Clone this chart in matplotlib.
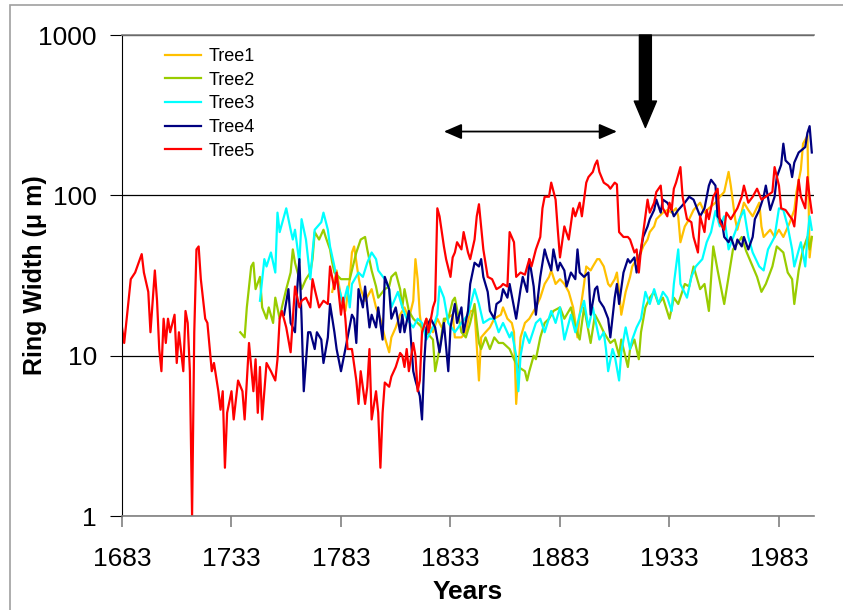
import matplotlib
matplotlib.use('Agg')
import matplotlib.pyplot as plt
from matplotlib.patches import Rectangle
from matplotlib.ticker import FixedLocator, NullLocator, FuncFormatter

plt.rcParams['font.family'] = ['Liberation Sans', 'DejaVu Sans']

# ring widths (um), per tree
tree1_years = [1779, 1781, 1783, 1785, 1787, 1788, 1789, 1791, 1792, 1794, 1797, 1799, 1801, 1803, 1805, 1806, 1808,
               1810, 1812, 1814, 1816, 1817, 1818, 1819, 1820, 1822, 1825, 1827, 1829, 1831, 1834, 1835, 1838, 1840,
               1842, 1844, 1846, 1847, 1849, 1851, 1853, 1856, 1857, 1859, 1861, 1862, 1863, 1865, 1867, 1869, 1872,
               1874, 1876, 1878, 1879, 1881, 1883, 1885, 1887, 1889, 1891, 1892, 1894, 1895, 1897, 1898, 1900, 1901,
               1903, 1905, 1906, 1908, 1909, 1910, 1911, 1913, 1915, 1916, 1918, 1920, 1921, 1923, 1924, 1926, 1927,
               1930, 1932, 1934, 1936, 1937, 1938, 1940, 1942, 1944, 1947, 1949, 1951, 1954, 1956, 1958, 1960, 1961,
               1963, 1964, 1967, 1969, 1971, 1974, 1975, 1976, 1979, 1981, 1983, 1985, 1988, 1990, 1991, 1993, 1994,
               1996, 1997, 1998]
tree1_width = [25, 34, 23, 19, 30, 44, 48, 31, 26, 22, 26, 20, 17, 13, 10.5, 13, 15,
               18, 20, 17, 22, 40, 30, 18, 14, 17, 14, 17, 15, 17, 18, 13, 13, 14,
               19, 19, 7, 13, 14, 15, 17, 18, 20, 17, 16, 14, 5, 13, 16, 17, 20,
               23, 28, 31, 34, 28, 30, 28, 25, 20, 13, 18, 28, 36, 34, 36, 40, 40,
               36, 28, 27, 30, 33, 25, 18, 25, 31, 36, 40, 44, 48, 53, 59, 64, 71,
               78, 81, 78, 83, 74, 51, 64, 71, 81, 90, 78, 83, 90, 98, 105, 140, 115,
               71, 61, 90, 81, 74, 90, 64, 55, 61, 55, 61, 55, 68, 81, 105, 145, 210,
               235, 41, 55]

tree2_years = [1737, 1739, 1740, 1742, 1743, 1744, 1746, 1747, 1749, 1750, 1752, 1753, 1755, 1756, 1758, 1760, 1761,
               1762, 1764, 1765, 1767, 1769, 1770, 1771, 1773, 1775, 1776, 1778, 1779, 1780, 1783, 1787, 1790, 1792,
               1794, 1795, 1797, 1799, 1800, 1803, 1805, 1806, 1808, 1810, 1811, 1812, 1814, 1816, 1818, 1820, 1822,
               1825, 1826, 1828, 1830, 1832, 1834, 1835, 1838, 1840, 1842, 1844, 1846, 1847, 1849, 1851, 1853, 1855,
               1857, 1860, 1862, 1864, 1867, 1868, 1869, 1871, 1872, 1874, 1876, 1878, 1880, 1883, 1885, 1888, 1890,
               1892, 1894, 1897, 1899, 1901, 1903, 1906, 1908, 1910, 1911, 1914, 1915, 1917, 1919, 1920, 1922, 1924,
               1926, 1928, 1930, 1933, 1935, 1937, 1940, 1942, 1944, 1947, 1949, 1951, 1953, 1955, 1958, 1960, 1962,
               1964, 1966, 1968, 1971, 1973, 1975, 1977, 1980, 1982, 1985, 1987, 1989, 1990, 1992, 1994, 1996, 1997,
               1998]
tree2_width = [14, 13, 20, 36, 38, 26, 31, 20, 17, 20, 16, 23, 17, 20, 26, 33, 46,
               38, 30, 26, 30, 33, 40, 59, 53, 61, 55, 46, 38, 33, 30, 30, 44, 53,
               55, 46, 34, 27, 23, 26, 27, 31, 33, 26, 20, 26, 19, 17, 16, 15, 14,
               12.6, 8, 11, 17, 17, 22, 23, 14, 13, 16, 21, 12, 11, 13, 11, 13, 12,
               12, 11, 9.5, 8.5, 8, 7, 8, 10, 9.5, 13, 16, 17, 19, 20, 17, 20, 15,
               12.6, 20, 12, 18, 16, 14, 12, 12.6, 10, 12.6, 8.5, 11, 12.6, 9.5, 14, 20, 23,
               25, 21, 23, 17, 23, 21, 28, 27, 36, 26, 28, 19, 48, 34, 21, 31, 46,
               50, 55, 45, 36, 31, 25, 28, 36, 48, 44, 33, 30, 21, 34, 46, 55, 46,
               55]

tree3_years = [1746, 1748, 1749, 1751, 1753, 1754, 1755, 1757, 1758, 1760, 1761, 1762, 1764, 1765, 1767, 1769, 1770,
               1771, 1774, 1775, 1777, 1778, 1780, 1781, 1784, 1786, 1787, 1788, 1791, 1793, 1795, 1797, 1799, 1800,
               1803, 1805, 1806, 1809, 1811, 1813, 1816, 1818, 1820, 1822, 1825, 1827, 1828, 1830, 1832, 1835, 1838,
               1841, 1843, 1844, 1846, 1848, 1851, 1853, 1855, 1857, 1860, 1861, 1863, 1864, 1865, 1867, 1869, 1872,
               1874, 1876, 1879, 1881, 1883, 1885, 1888, 1890, 1892, 1894, 1896, 1898, 1899, 1901, 1903, 1904, 1905,
               1907, 1908, 1910, 1911, 1913, 1915, 1916, 1918, 1920, 1922, 1924, 1926, 1928, 1930, 1932, 1934, 1935,
               1937, 1938, 1941, 1943, 1945, 1948, 1950, 1952, 1954, 1956, 1958, 1960, 1963, 1965, 1967, 1969, 1971,
               1974, 1976, 1978, 1981, 1983, 1985, 1987, 1989, 1990, 1993, 1995, 1996, 1997, 1998]
tree3_width = [22, 40, 36, 44, 33, 78, 59, 74, 83, 61, 53, 61, 38, 71, 53, 30, 44,
               61, 68, 78, 61, 48, 36, 30, 21, 27, 20, 28, 33, 31, 38, 44, 40, 34,
               30, 26, 20, 25, 20, 17, 15, 17, 16, 12.6, 15, 18, 27, 23, 16, 14, 16,
               18, 23, 26, 21, 16, 17, 17, 14, 16, 13, 14, 10, 6, 10, 14, 12, 16,
               17, 14, 19, 16, 20, 12.6, 18, 14, 18, 22, 15, 20, 17, 12.6, 14, 11, 8,
               11, 10, 7, 10.5, 15, 11, 12.6, 15, 17, 25, 21, 26, 21, 25, 23, 19, 28,
               46, 28, 23, 31, 36, 40, 51, 59, 80, 64, 74, 46, 59, 71, 81, 55, 44,
               36, 34, 46, 55, 83, 81, 64, 46, 36, 51, 36, 55, 74, 61]

tree4_years = [1757, 1759, 1760, 1762, 1763, 1764, 1765, 1766, 1768, 1769, 1771, 1772, 1774, 1775, 1777, 1778, 1780,
               1781, 1783, 1785, 1788, 1789, 1790, 1791, 1793, 1794, 1796, 1797, 1799, 1800, 1802, 1803, 1805, 1806,
               1808, 1810, 1811, 1812, 1814, 1816, 1817, 1819, 1820, 1821, 1822, 1824, 1826, 1827, 1828, 1830, 1832,
               1833, 1835, 1836, 1838, 1839, 1841, 1842, 1844, 1846, 1847, 1848, 1850, 1851, 1853, 1854, 1856, 1857,
               1859, 1860, 1862, 1863, 1865, 1866, 1868, 1869, 1871, 1872, 1874, 1876, 1877, 1879, 1880, 1882, 1883,
               1885, 1886, 1888, 1890, 1891, 1892, 1894, 1896, 1897, 1899, 1900, 1901, 1903, 1905, 1906, 1908, 1909,
               1910, 1912, 1914, 1915, 1917, 1918, 1920, 1921, 1923, 1924, 1926, 1927, 1929, 1930, 1932, 1934, 1935,
               1937, 1940, 1942, 1944, 1947, 1949, 1951, 1952, 1954, 1955, 1957, 1958, 1960, 1961, 1963, 1964, 1966,
               1967, 1969, 1971, 1972, 1974, 1976, 1977, 1979, 1981, 1982, 1984, 1985, 1986, 1988, 1989, 1990, 1992,
               1993, 1995, 1996, 1997, 1998]
tree4_width = [18, 26, 16, 14, 26, 40, 17, 6, 14, 14, 11, 14, 12.6, 9, 13, 21, 14,
               11, 8, 11, 18, 17, 12, 26, 20, 27, 15, 18, 15, 20, 12.6, 31, 26, 17,
               20, 14, 18, 14, 19, 8, 7, 5.6, 4, 9, 15, 17, 15, 12.6, 10.5, 16, 8,
               15, 21, 16, 20, 14, 19, 28, 38, 36, 40, 31, 25, 19, 17, 21, 22, 26,
               23, 28, 20, 17, 26, 31, 25, 40, 27, 18, 31, 46, 41, 34, 46, 34, 38,
               34, 27, 33, 30, 46, 33, 31, 33, 18, 26, 27, 22, 20, 17, 13, 23, 28,
               21, 33, 40, 38, 41, 33, 46, 55, 64, 71, 81, 94, 78, 94, 90, 81, 74,
               81, 90, 98, 94, 74, 83, 115, 125, 115, 74, 68, 55, 51, 55, 46, 53, 48,
               55, 46, 55, 71, 81, 98, 115, 81, 98, 130, 155, 210, 165, 155, 130, 160, 185,
               190, 200, 245, 270, 185]

tree5_years = [1683, 1684, 1687, 1689, 1692, 1693, 1695, 1696, 1698, 1699, 1700, 1701, 1702, 1703, 1704, 1705, 1707,
               1708, 1709, 1711, 1712, 1713, 1714, 1715, 1716, 1717, 1718, 1719, 1721, 1722, 1724, 1725, 1727, 1728,
               1729, 1730, 1731, 1733, 1734, 1736, 1738, 1739, 1741, 1743, 1744, 1745, 1746, 1747, 1749, 1751, 1753,
               1754, 1755, 1756, 1758, 1760, 1761, 1762, 1764, 1765, 1767, 1769, 1770, 1771, 1773, 1775, 1777, 1778,
               1780, 1781, 1783, 1784, 1785, 1786, 1788, 1790, 1791, 1792, 1794, 1795, 1796, 1797, 1799, 1800, 1801,
               1802, 1803, 1805, 1806, 1808, 1810, 1811, 1812, 1813, 1814, 1816, 1817, 1818, 1819, 1820, 1822, 1823,
               1825, 1826, 1827, 1828, 1830, 1831, 1833, 1834, 1835, 1836, 1838, 1839, 1841, 1842, 1844, 1845, 1846,
               1847, 1848, 1850, 1852, 1854, 1856, 1857, 1859, 1860, 1862, 1863, 1865, 1867, 1869, 1870, 1872, 1874,
               1875, 1876, 1878, 1879, 1881, 1882, 1883, 1885, 1887, 1889, 1890, 1892, 1893, 1895, 1896, 1898, 1899,
               1900, 1901, 1903, 1905, 1906, 1908, 1909, 1910, 1912, 1914, 1915, 1917, 1918, 1919, 1920, 1922, 1923,
               1924, 1926, 1927, 1929, 1930, 1932, 1933, 1934, 1935, 1936, 1938, 1939, 1941, 1943, 1944, 1946, 1947,
               1949, 1950, 1951, 1953, 1955, 1956, 1958, 1959, 1961, 1964, 1966, 1967, 1969, 1971, 1973, 1975, 1977,
               1980, 1981, 1983, 1984, 1986, 1988, 1989, 1990, 1992, 1993, 1995, 1996, 1997, 1998]
tree5_width = [15, 12, 30, 33, 43, 33, 25, 14, 34, 22, 11, 8, 17, 12, 17, 14, 18,
               9, 14, 8, 19, 16, 8, 1.0, 14, 46, 48, 30, 17, 16, 8, 9, 6, 4.6,
               6, 2.0, 4.4, 6, 4, 7, 6, 4, 12, 6, 9.5, 4.4, 8.5, 4, 9, 8, 7,
               9.5, 17, 19, 15, 10.5, 17, 27, 20, 22, 23, 20, 30, 26, 20, 22, 21, 36,
               26, 33, 18, 23, 17, 11, 11, 7, 5, 8, 5, 6.4, 11, 4, 6, 4.4, 2,
               4.4, 6.8, 6.4, 7.4, 8.5, 10.4, 10, 8.5, 11, 8, 12, 10, 6, 7, 14, 17, 14,
               20, 22, 83, 74, 48, 40, 31, 41, 44, 51, 46, 59, 44, 40, 53, 74, 88,
               64, 46, 31, 30, 26, 27, 28, 27, 59, 51, 31, 33, 32, 40, 36, 46, 55,
               83, 98, 98, 120, 94, 61, 41, 64, 53, 83, 74, 90, 74, 120, 130, 140, 155,
               165, 140, 120, 115, 110, 120, 117, 59, 55, 55, 53, 44, 46, 33, 46, 74, 94,
               78, 90, 105, 115, 83, 74, 90, 81, 110, 120, 150, 98, 71, 68, 55, 44, 74,
               59, 81, 71, 98, 110, 68, 61, 78, 71, 83, 98, 115, 90, 98, 110, 94, 98,
               105, 150, 115, 83, 81, 74, 71, 64, 125, 98, 83, 130, 98, 78]

series = [
    ('Tree1', tree1_years, tree1_width, '#FFC000'),
    ('Tree2', tree2_years, tree2_width, '#99CC00'),
    ('Tree3', tree3_years, tree3_width, '#00FFFF'),
    ('Tree4', tree4_years, tree4_width, '#000080'),
    ('Tree5', tree5_years, tree5_width, '#FF0000'),
]

year_ticks = [1683, 1733, 1783, 1833, 1883, 1933, 1983]
width_ticks = [1, 10, 100, 1000]

fig = plt.figure(figsize=(8.43, 6.10), dpi=100)
ax = fig.add_axes([122 / 843, 1 - 516 / 610, 692 / 843, 481 / 610])

# light frame around the whole picture
fig.patches.append(Rectangle((10 / 843, -0.01), 1.0, 1.0 - 5 / 610 + 0.01, transform=fig.transFigure,
                             fill=False, edgecolor='#a0a0a0', lw=1.2))

for name, yrs, vals, col in series:
    ax.plot(yrs, vals, color=col, lw=1.6, label=name)

ax.set_yscale('log')
ax.set_xlim(1683, 1999)
ax.set_ylim(1, 1000)

ax.xaxis.set_major_locator(FixedLocator(year_ticks))
ax.yaxis.set_major_locator(FixedLocator(width_ticks))
ax.yaxis.set_minor_locator(NullLocator())
ax.yaxis.set_major_formatter(FuncFormatter(lambda v, p: '%d' % v))

ax.yaxis.grid(True, color='black', lw=0.9)
ax.set_axisbelow(True)

ax.spines['right'].set_visible(False)
ax.spines['top'].set_color('#808080')
ax.spines['top'].set_linewidth(1.2)
ax.spines['bottom'].set_color('#808080')
ax.spines['bottom'].set_linewidth(1.2)
ax.spines['left'].set_color('black')

ax.tick_params(axis='x', direction='out', length=8, color='#808080', width=1.2, labelsize=19, pad=14)
ax.tick_params(axis='y', direction='out', length=9, color='black', labelsize=19, pad=9)

ax.set_xlabel('Years', fontsize=19, fontweight='bold', labelpad=7)
ax.set_ylabel('Ring Width (\u03bc m)', fontsize=18, fontweight='bold')
ax.yaxis.set_label_coords((47 - 122) / 692, 0.5)

ax.legend(loc='upper left', bbox_to_anchor=((165 - 122) / 692, (516 - 48) / 481), frameon=False,
          fontsize=13, handlelength=2.0, handletextpad=0.4, labelspacing=0.37, borderpad=0, borderaxespad=0)

# double arrow over the period of interest and the big down arrow
ax.annotate('', xy=(1909, 250), xytext=(1830, 250), annotation_clip=False,
            arrowprops=dict(arrowstyle='<|-|>,head_length=0.9,head_width=0.39', mutation_scale=12,
                            color='black', lw=1.3, shrinkA=0, shrinkB=0))
ax.annotate('', xy=(1922, 265), xytext=(1922, 1000), annotation_clip=False,
            arrowprops=dict(arrowstyle='simple,head_length=0.95,head_width=0.8,tail_width=0.43',
                            mutation_scale=20, color='black', shrinkA=0, shrinkB=0))

fig.savefig('out.png', dpi=100)
